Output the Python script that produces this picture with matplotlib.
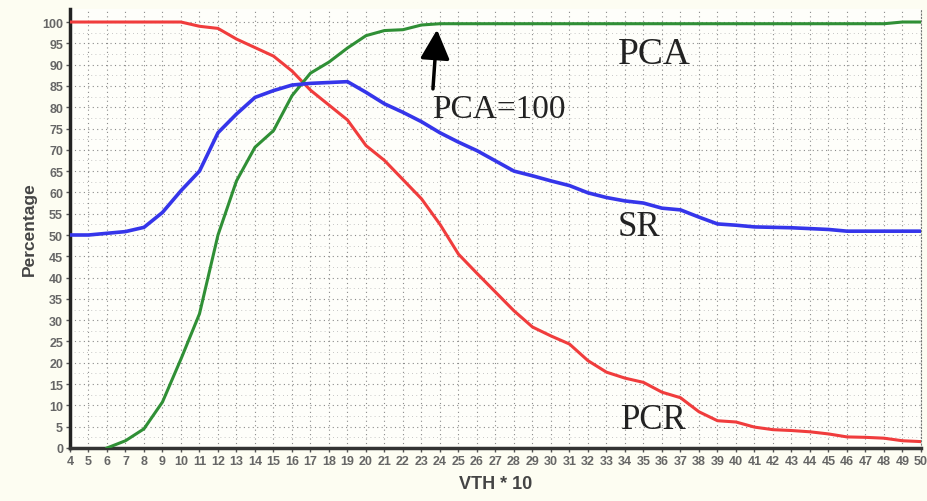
import numpy as np
import matplotlib
matplotlib.use('Agg')
import matplotlib.pyplot as plt

vth = list(range(4, 51))
pca_vth = list(range(6, 51))

pcr = [100, 100, 100, 100, 100, 100, 100, 99, 98.5, 96, 94, 92, 88.5, 84, 80.5, 77,
       71, 67.5, 63, 58.5, 52.5, 45.5, 41, 36.6, 32.2, 28.4, 26.3, 24.4, 20.5, 17.8,
       16.4, 15.4, 13.1, 11.8, 8.5, 6.4, 6.1, 4.9, 4.3, 4.1, 3.8, 3.3, 2.6, 2.5, 2.3,
       1.7, 1.5]

pca = [0, 1.7, 4.5, 10.8, 20.9, 31.5, 50, 62.7, 70.6, 74.5, 82.7, 88, 90.6,
       93.9, 96.8, 98, 98.2, 99.3, 99.6, 99.6, 99.6, 99.6, 99.6, 99.6, 99.6, 99.6,
       99.6, 99.6, 99.6, 99.6, 99.6, 99.6, 99.6, 99.6, 99.6, 99.6, 99.6, 99.6, 99.6,
       99.6, 99.6, 99.6, 99.6, 100, 100]

sr = [50, 50, 50.4, 50.8, 51.8, 55.3, 60.4, 65, 74, 78.4, 82.3, 83.9, 85.2, 85.6,
      85.8, 86, 83.5, 80.8, 78.8, 76.6, 74, 71.8, 69.8, 67.4, 65, 63.9, 62.7, 61.6,
      59.9, 58.8, 58, 57.5, 56.3, 55.9, 54.2, 52.6, 52.3, 51.9, 51.8, 51.7, 51.5,
      51.3, 50.9, 50.9, 50.9, 50.9, 50.9]

bg = '#fdfdf2'
fig = plt.figure(figsize=(9.27, 5.02), dpi=100, facecolor=bg)
ax = fig.add_axes([0.0755, 0.1056, 0.918, 0.874])
ax.set_facecolor('#fefefa')

ax.plot(vth, pcr, color='#f03c3c', lw=2.2, zorder=3)
ax.plot(pca_vth, pca, color='#2f8f35', lw=2.2, zorder=3)
ax.plot(vth, sr, color='#3535ea', lw=2.6, zorder=3)

ax.set_xlim(4, 50)
ax.set_ylim(0, 103)
ax.set_xticks(vth)
ax.set_yticks(range(0, 101, 5))
ax.set_yticks(np.arange(2.5, 101, 5), minor=True)
ax.tick_params(axis='both', labelsize=9, colors='#555555', length=3, width=1,
               labelfontfamily='Liberation Sans', pad=2)
ax.tick_params(axis='y', which='minor', length=0)
for lab in ax.get_xticklabels() + ax.get_yticklabels():
    lab.set_fontweight('bold')
    lab.set_color('#666666')

ax.grid(True, which='major', color='#8a8a8a', linestyle=(0, (1, 3)), lw=0.8)
ax.grid(True, which='minor', axis='y', color='#b5b5b5', linestyle=(0, (1, 4)), lw=0.6)

ax.spines['top'].set_visible(False)
ax.spines['left'].set_linewidth(2.5)
ax.spines['left'].set_color('#222222')
ax.spines['bottom'].set_linewidth(2.5)
ax.spines['bottom'].set_color('#333333')
ax.spines['right'].set_linestyle((0, (1, 2)))
ax.spines['right'].set_color('#777777')

ax.set_ylabel('Percentage', fontsize=12.5, fontweight='bold', color='#444444',
              family='Liberation Sans', labelpad=4)
ax.set_xlabel('VTH * 10', fontsize=13, fontweight='bold', color='#444444',
              family='Liberation Sans', labelpad=6)

serif = 'Liberation Serif'
ax.text(33.6, 92.5, 'PCA', fontsize=27, family=serif, color='#222222', va='center')
ax.text(23.6, 79.6, 'PCA=100', fontsize=24, family=serif, color='#222222', va='center')
ax.text(33.6, 51.9, 'SR', fontsize=25, family=serif, color='#222222', va='center')
ax.text(33.8, 6.8, 'PCR', fontsize=25, family=serif, color='#222222', va='center')

ax.annotate('', xy=(23.84, 98.2), xytext=(23.62, 84.3),
            arrowprops=dict(arrowstyle='-|>,head_width=0.45,head_length=0.9',
                            lw=2.5, color='black', mutation_scale=20,
                            shrinkA=0, shrinkB=0), zorder=4)

fig.savefig('out.png', dpi=100, facecolor=bg)
